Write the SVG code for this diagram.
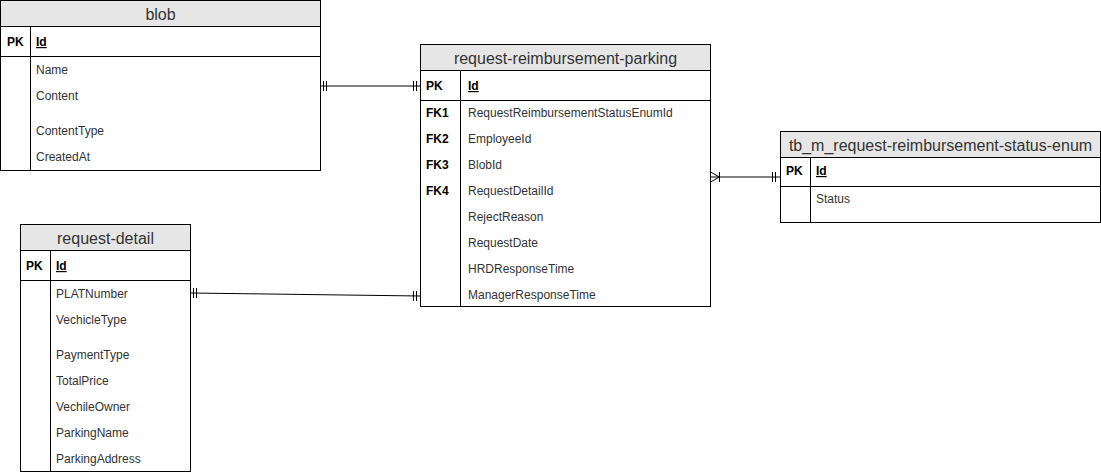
<svg xmlns="http://www.w3.org/2000/svg" width="1101" height="476" viewBox="0 0 1101 476">
<style>
.box{fill:#fff;stroke:#000;stroke-width:1}
.hdr{fill:#e6e6e6;stroke:#000;stroke-width:1}
.ln{stroke:#000;stroke-width:1;fill:none}
.title{font-family:"Liberation Sans",Arial,sans-serif;font-size:16px;fill:#333;text-anchor:middle}
.key{font-family:"Liberation Sans",Arial,sans-serif;font-size:12px;font-weight:bold;fill:#000}
.pk{font-family:"Liberation Sans",Arial,sans-serif;font-size:12px;font-weight:bold;fill:#000;text-decoration:underline}
.f{font-family:"Liberation Sans",Arial,sans-serif;font-size:12px;fill:#333}
</style>
<rect width="1101" height="476" fill="#fff"/>
<g id="connectors" class="ln">
  <path d="M320.5 86 H420.5"/>
  <path d="M323.5 81 V91 M326.5 81 V91 M413.5 81 V91 M416.5 81 V91"/>
  <path d="M190.5 293 L420.5 296"/>
  <path d="M193.5 288 V298 M196.5 288 V298 M413.5 291 V301 M416.5 291 V301"/>
  <path d="M710.5 177 H780.5"/>
  <path d="M710.5 172 L719.5 177 L710.5 182 M719.5 172 V182"/>
  <path d="M772.5 172 V182 M775.5 172 V182"/>
</g>
<g id="blob">
  <rect class="box" x="0.5" y="0.5" width="320" height="170"/>
  <rect class="hdr" x="0.5" y="0.5" width="320" height="26"/>
  <text class="title" x="160.5" y="19.5">blob</text>
  <path class="ln" d="M0.5 56.5 H320.5 M30.5 26.5 V170.5"/>
  <text class="key" x="7" y="46">PK</text>
  <text class="pk" x="36" y="46">Id</text>
  <text class="f" x="36" y="74">Name</text>
  <text class="f" x="36" y="100">Content</text>
  <text class="f" x="36" y="135">ContentType</text>
  <text class="f" x="36" y="161">CreatedAt</text>
</g>
<g id="request-reimbursement-parking">
  <rect class="box" x="420.5" y="44.5" width="290" height="262"/>
  <rect class="hdr" x="420.5" y="44.5" width="290" height="26"/>
  <text class="title" x="565.5" y="63.5">request-reimbursement-parking</text>
  <path class="ln" d="M420.5 100.5 H710.5 M460.5 70.5 V306.5"/>
  <text class="key" x="426" y="90">PK</text>
  <text class="pk" x="468" y="90">Id</text>
  <text class="key" x="426" y="117">FK1</text>
  <text class="f" x="468" y="117">RequestReimbursementStatusEnumId</text>
  <text class="key" x="426" y="143">FK2</text>
  <text class="f" x="468" y="143">EmployeeId</text>
  <text class="key" x="426" y="169">FK3</text>
  <text class="f" x="468" y="169">BlobId</text>
  <text class="key" x="426" y="195">FK4</text>
  <text class="f" x="468" y="195">RequestDetailId</text>
  <text class="f" x="468" y="221">RejectReason</text>
  <text class="f" x="468" y="247">RequestDate</text>
  <text class="f" x="468" y="273">HRDResponseTime</text>
  <text class="f" x="468" y="299">ManagerResponseTime</text>
</g>
<g id="tb_m_request-reimbursement-status-enum">
  <rect class="box" x="780.5" y="131.5" width="320" height="91"/>
  <rect class="hdr" x="780.5" y="131.5" width="320" height="26"/>
  <text class="title" x="940.5" y="150.5">tb_m_request-reimbursement-status-enum</text>
  <path class="ln" d="M780.5 186.5 H1100.5 M810.5 157.5 V222.5"/>
  <text class="key" x="786" y="175">PK</text>
  <text class="pk" x="816" y="175">Id</text>
  <text class="f" x="816" y="203">Status</text>
</g>
<g id="request-detail">
  <rect class="box" x="20.5" y="224.5" width="170" height="247"/>
  <rect class="hdr" x="20.5" y="224.5" width="170" height="26"/>
  <text class="title" x="105.5" y="243.5">request-detail</text>
  <path class="ln" d="M20.5 280.5 H190.5 M50.5 250.5 V471.5"/>
  <text class="key" x="26" y="270">PK</text>
  <text class="pk" x="56" y="270">Id</text>
  <text class="f" x="56" y="298">PLATNumber</text>
  <text class="f" x="56" y="324">VechicleType</text>
  <text class="f" x="56" y="359">PaymentType</text>
  <text class="f" x="56" y="385">TotalPrice</text>
  <text class="f" x="56" y="411">VechileOwner</text>
  <text class="f" x="56" y="437">ParkingName</text>
  <text class="f" x="56" y="463">ParkingAddress</text>
</g>
</svg>
